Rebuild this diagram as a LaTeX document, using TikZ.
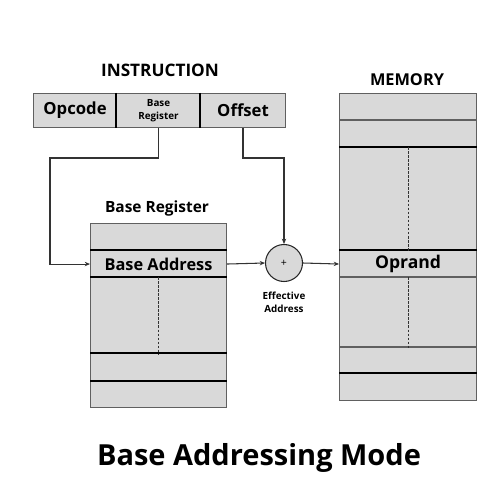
\documentclass[tikz,border=0pt]{standalone}
\usepackage{fontspec}
\setmainfont{Open Sans}
\usetikzlibrary{arrows.meta}
\definecolor{cellgrey}{HTML}{D9D9D9}
\definecolor{edgegrey}{HTML}{606060}
\tikzset{
  cell/.style={draw=edgegrey, line width=0.6pt, fill=cellgrey, inner sep=0pt, anchor=north west, font=\bfseries},
  sep/.style={line width=1.3pt, black},
  sepgrey/.style={line width=1.3pt, edgegrey},
  dots/.style={densely dashed, line width=0.5pt, black!80, dash pattern=on 1.5pt off 0.8pt},
  conn/.style={line width=0.6pt, black!80, -{Stealth[length=3pt,width=2.5pt]}},
  lbl/.style={font=\bfseries, inner sep=0pt},
}
\begin{document}
\begin{tikzpicture}[x=0.02cm,y=-0.02cm]
\useasboundingbox[fill=white] (0,0) rectangle (500,500);
% Instruction
\node[lbl, font=\bfseries\fontsize{9.8}{11}\selectfont] (instr) at (160,70) {INSTRUCTION};
\node[cell, minimum width=83*0.02cm, minimum height=34*0.02cm, font=\bfseries\fontsize{9.5}{11}\selectfont] (opc) at (33,93) {Opcode};
\node[cell, minimum width=84*0.02cm, minimum height=34*0.02cm, align=center, font=\bfseries\fontsize{5.6}{7.5}\selectfont] (bfield) at (116,93) {Base\\Register};
\node[cell, minimum width=85*0.02cm, minimum height=34*0.02cm, font=\bfseries\fontsize{9.5}{11}\selectfont] (off) at (200,93) {Offset};
\draw[line width=1pt] (bfield.north west) -- (bfield.south west);
\draw[line width=1pt] (off.north west) -- (off.south west);
% Base register
\node[lbl, font=\bfseries\fontsize{8.8}{10}\selectfont] (brt) at (157,208) {Base Register};
\node[cell, minimum width=136*0.02cm, minimum height=27*0.02cm] (br1) at (90,223) {};
\node[cell, minimum width=136*0.02cm, minimum height=27*0.02cm, font=\bfseries\fontsize{9.3}{11}\selectfont] (ba) at (90,250) {Base Address};
\node[cell, minimum width=136*0.02cm, minimum height=76*0.02cm] (br3) at (90,277) {};
\node[cell, minimum width=136*0.02cm, minimum height=28*0.02cm] (br4) at (90,353) {};
\node[cell, minimum width=136*0.02cm, minimum height=26*0.02cm] (br5) at (90,381) {};
\draw[sep] (ba.north west) -- (ba.north east);
\draw[sep] (br3.north west) -- (br3.north east);
\draw[sep] (br4.north west) -- (br4.north east);
\draw[sep] (br5.north west) -- (br5.north east);
\draw[dots] (br3.north) -- (br3.south);
% Adder
\node[circle, draw=black!85, line width=0.6pt, fill=cellgrey, minimum size=37*0.02cm, inner sep=0pt, font=\fontsize{6}{6}\selectfont] (plus) at (284,263) {+};
\node[lbl, align=center, font=\bfseries\fontsize{5.6}{7.6}\selectfont] (ea) at (284,302) {Effective\\Address};
% Memory
\node[lbl, font=\bfseries\fontsize{9.3}{11}\selectfont] (memt) at (407,80) {MEMORY};
\node[cell, minimum width=137*0.02cm, minimum height=27*0.02cm] (m1) at (339,93) {};
\node[cell, minimum width=137*0.02cm, minimum height=27*0.02cm] (m2) at (339,120) {};
\node[cell, minimum width=137*0.02cm, minimum height=103*0.02cm] (m3) at (339,147) {};
\node[cell, minimum width=137*0.02cm, minimum height=27*0.02cm, font=\bfseries\fontsize{10}{11}\selectfont] (opr) at (339,250) {Oprand};
\node[cell, minimum width=137*0.02cm, minimum height=70*0.02cm] (m5) at (339,277) {};
\node[cell, minimum width=137*0.02cm, minimum height=26*0.02cm] (m6) at (339,347) {};
\node[cell, minimum width=137*0.02cm, minimum height=27*0.02cm] (m7) at (339,373) {};
\draw[sepgrey] (m2.north west) -- (m2.north east);
\draw[sep] (m3.north west) -- (m3.north east);
\draw[sep] (opr.north west) -- (opr.north east);
\draw[sepgrey] (m5.north west) -- (m5.north east);
\draw[sepgrey] (m6.north west) -- (m6.north east);
\draw[sep] (m7.north west) -- (m7.north east);
\draw[dots] (m3.north) -- (m3.south);
\draw[dots] (m5.north) -- (m5.south);
% Connectors
\coordinate (c1) at (50,158);
\coordinate (c2) at (243,158);
\draw[conn] (bfield.south) |- (c1) |- (ba.west);
\draw[conn] (c2 |- off.south) -- (c2) -| (plus.north);
\draw[conn] (ba.east) -- (plus.west);
\draw[conn] (plus.east) -- (opr.west);
% Title
\node[lbl, font=\bfseries\fontsize{16.5}{18}\selectfont] (title) at (259,458) {Base Addressing Mode};
\end{tikzpicture}
\end{document}
